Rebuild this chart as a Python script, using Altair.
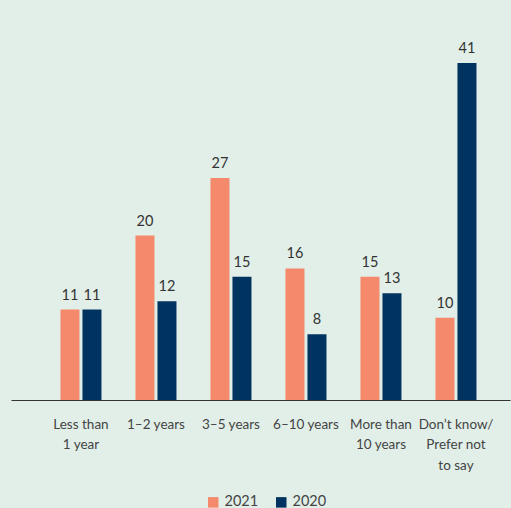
import altair as alt
import pandas as pd

categories = ["Less than|1 year", "1–2 years", "3–5 years", "6–10 years", "More than|10 years", "Don’t know/|Prefer not|to say"]
values_2021 = [11, 20, 27, 16, 15, 10]
values_2020 = [11, 12, 15, 8, 13, 41]
years = ["2021", "2020"]
colors = ["#f4896b", "#00335f"]

rows = []
for c, a, b in zip(categories, values_2021, values_2020):
    rows.append({"cat": c, "year": "2021", "value": a})
    rows.append({"cat": c, "year": "2020", "value": b})
df = pd.DataFrame(rows)

FONT = "Lato"

x = alt.X("cat:N", sort=categories, title=None,
          scale=alt.Scale(paddingInner=0.4533, paddingOuter=0.5533, align=0.596),
          axis=alt.Axis(labelExpr="split(datum.label, '|')", labelAngle=0, labelFontSize=13.5,
                        labelFont=FONT, labelColor="#444444", labelLineHeight=20.5,
                        labelPadding=17, ticks=False, domainColor="#333333", domainWidth=1.2,
                        grid=False))
xoff = alt.XOffset("year:N", sort=years, scale=alt.Scale(paddingInner=0.136, paddingOuter=0))
y = alt.Y("value:Q", scale=alt.Scale(domain=[0, 41], nice=False), axis=None)

bars = alt.Chart(df).mark_bar().encode(
    x=x, xOffset=xoff, y=y,
    color=alt.Color("year:N", sort=years, scale=alt.Scale(domain=years, range=colors),
                    legend=alt.Legend(title=None, orient="none", direction="horizontal",
                                      legendX=195, legendY=432, symbolType="square",
                                      symbolSize=110, symbolStrokeWidth=0,
                                      labelFontSize=14.5, labelFont=FONT, labelColor="#444444",
                                      columnPadding=15, symbolOpacity=1)),
)
labels = alt.Chart(df).mark_text(baseline="bottom", dy=-7, fontSize=14.5, font=FONT, color="#333333").encode(
    x=alt.X("cat:N", sort=categories), xOffset=alt.XOffset("year:N", sort=years), y="value:Q", text="value:Q"
)

chart = alt.layer(bars, labels).properties(
    width=499, height=337,
    autosize=alt.AutoSizeParams(type="none"),
    padding={"left": 11, "top": 63, "right": 1, "bottom": 108},
    background="#e1efe8",
).configure_view(stroke=None)

chart.save("out.html", embed_options={"renderer": "svg", "actions": False})
